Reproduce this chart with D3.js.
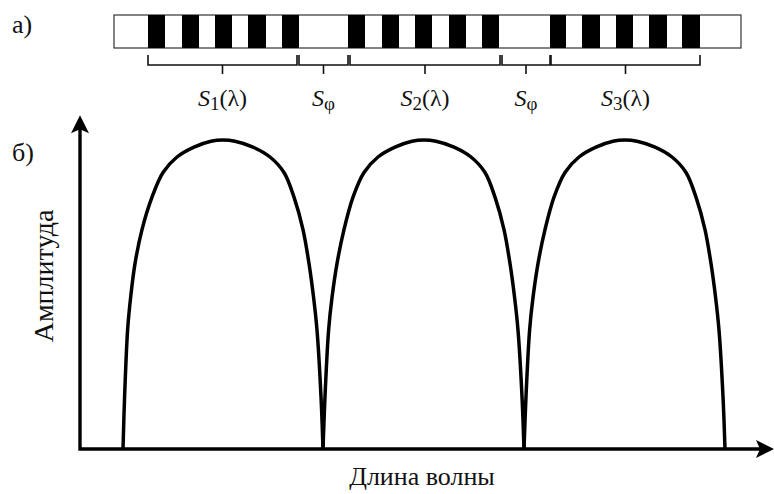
<!DOCTYPE html>
<html>
<head>
<meta charset="utf-8">
<script src="https://cdn.jsdelivr.net/npm/d3@7"></script>
<style>
  svg text, svg tspan { font-family: "Liberation Serif", Tinos, "Times New Roman", serif !important; }
</style>
</head>
<body style="margin:0">
<svg id="fig" width="774" height="494"></svg>
<script>
// Wavelength axis (arbitrary units) and normalised amplitude.
const axisLambda = [0, 346];
const axisAmplitude = [0, 1.08];

// Grating (panel а): overall extent and dark strips, as [from, to] wavelength.
const gratingExtent = [17, 330.5];
const gratingStrips = [
  [34, 42.5], [51, 59.5], [67.5, 76], [84, 93], [101, 109.5],
  [134, 142.5], [151, 159.5], [167.5, 176], [184.5, 193], [201, 209.5],
  [235, 243], [251, 260], [268, 276.5], [284.5, 293.5], [301, 310]
];

// Segments under the grating: spectral bands and phase gaps.
const segmentNames = ["S1", "Sφ", "S2", "Sφ", "S3"];
const segmentFrom  = [34, 109.5, 135, 211, 235.5];
const segmentTo    = [108.5, 134, 210, 235, 310];

// Spectral amplitude of the three bands (panel б): [wavelength, amplitude].
const band1 = [
  [21.5, 0], [22.3, 0.17], [23.8, 0.385], [25.3, 0.49], [27.5, 0.60], [31, 0.71],
  [36, 0.815], [41.5, 0.895], [48.5, 0.945], [57, 0.977], [65.5, 0.996], [71.5, 1.0],
  [77.5, 0.996], [86.5, 0.977], [95, 0.945], [102, 0.895], [107, 0.815], [111.5, 0.71],
  [114.5, 0.60], [116.8, 0.49], [118.5, 0.385], [120.5, 0.17], [121.5, 0]
];
const band2 = [
  [121.5, 0], [122.5, 0.17], [124.3, 0.385], [126, 0.49], [128.5, 0.60], [132, 0.71],
  [136.5, 0.815], [142, 0.895], [149, 0.945], [157.5, 0.977], [166, 0.996], [172, 1.0],
  [178, 0.996], [187, 0.977], [195.5, 0.945], [202.5, 0.895], [207.5, 0.815], [212, 0.71],
  [215, 0.60], [217.3, 0.49], [219, 0.385], [221, 0.17], [222, 0]
];
const band3 = [
  [222, 0], [223, 0.17], [224.8, 0.385], [226.5, 0.49], [229, 0.60], [232.5, 0.71],
  [237, 0.815], [242.5, 0.895], [249.5, 0.945], [258, 0.977], [266.5, 0.996], [272.5, 1.0],
  [278.5, 0.996], [287.5, 0.977], [296, 0.945], [303, 0.895], [308, 0.815], [312.5, 0.71],
  [315.5, 0.60], [317.8, 0.49], [319.5, 0.385], [321.5, 0.17], [322.5, 0]
];
const bands = [band1, band2, band3];

const panelLabels = ["а)", "б)"];
const xTitle = "Длина волны";
const yTitle = "Амплитуда";

const SERIF = "Liberation Serif, Tinos, Times New Roman, serif";
const svg = d3.select("#fig");

const x = d3.scaleLinear().domain(axisLambda).range([80, 772]);
const y = d3.scaleLinear().domain([0, 1]).range([449, 140]);

// ---- Panel а: grating ----
const gTop = 15, gBottom = 48;
const grating = svg.append("g");
grating.append("rect")
  .attr("x", x(gratingExtent[0])).attr("y", gTop)
  .attr("width", x(gratingExtent[1]) - x(gratingExtent[0]))
  .attr("height", gBottom - gTop)
  .attr("fill", "#fff").attr("stroke", "#333").attr("stroke-width", 1.2);
grating.selectAll("rect.strip").data(gratingStrips).join("rect")
  .attr("class", "strip")
  .attr("x", d => x(d[0])).attr("y", gTop)
  .attr("width", d => x(d[1]) - x(d[0]))
  .attr("height", gBottom - gTop)
  .attr("fill", "#000");

// Brackets marking the segments
const bLine = 65, bEnd = 55, bMid = 74;
const segs = segmentNames.map((n, i) => ({ name: n, a: segmentFrom[i], b: segmentTo[i] }));
const br = svg.append("g").attr("fill", "none").attr("stroke", "#111").attr("stroke-width", 1.6);
br.selectAll("path").data(segs).join("path")
  .attr("d", d => {
    const a = x(d.a), b = x(d.b), m = (a + b) / 2;
    return `M${a},${bEnd}V${bLine}H${b}V${bEnd}M${m},${bLine}V${bMid}`;
  });

// Serif text helper
function addText(parent, size) {
  return parent.append("text")
    .attr("font-family", SERIF)
    .style("font-family", SERIF, "important")
    .attr("font-size", size)
    .attr("fill", "#111");
}

// Segment labels: italic S with subscript
segs.forEach(d => {
  const m = (x(d.a) + x(d.b)) / 2;
  const t = addText(svg, 24).attr("x", m).attr("y", 106).attr("text-anchor", "middle");
  t.append("tspan").attr("font-style", "italic").text("S");
  const sub = d.name.slice(1);
  t.append("tspan").attr("font-size", 19).attr("dy", 4).text(sub);
  if (sub !== "φ") t.append("tspan").attr("dy", -4).text("(λ)");
});

// Panel labels
addText(svg, 26).attr("x", 12).attr("y", 33).text(panelLabels[0]);
addText(svg, 26).attr("x", 12).attr("y", 161).text(panelLabels[1]);

// ---- Panel б: axes ----
const x0 = x(axisLambda[0]), x1 = x(axisLambda[1]);
const y0 = y(0), y1 = y(axisAmplitude[1]);
const axes = svg.append("g");
axes.append("path")
  .attr("d", `M${x0},${y1 + 10}V${y0}H${x1 - 8}`)
  .attr("fill", "none").attr("stroke", "#000").attr("stroke-width", 3.4)
  .attr("stroke-linejoin", "miter");
// arrow heads
axes.append("path")
  .attr("d", `M${x0},${y1} L${x0 - 9},${y1 + 18} L${x0},${y1 + 14} L${x0 + 9},${y1 + 18} Z`)
  .attr("fill", "#000");
axes.append("path")
  .attr("d", `M${x1 + 2},${y0} L${x1 - 16},${y0 - 9} L${x1 - 12},${y0} L${x1 - 16},${y0 + 9} Z`)
  .attr("fill", "#000");

// Axis titles
addText(svg, 26).attr("x", 422).attr("y", 485).attr("text-anchor", "middle").text(xTitle);
addText(svg, 28).attr("transform", "translate(53,276) rotate(-90)")
  .attr("text-anchor", "middle").text(yTitle);

// Amplitude curves
const line = d3.line().x(d => x(d[0])).y(d => y(d[1])).curve(d3.curveCatmullRom.alpha(0.5));
svg.append("g").selectAll("path").data(bands).join("path")
  .attr("d", line)
  .attr("fill", "none").attr("stroke", "#000").attr("stroke-width", 3.5)
  .attr("stroke-linejoin", "round");
</script>
</body>
</html>
